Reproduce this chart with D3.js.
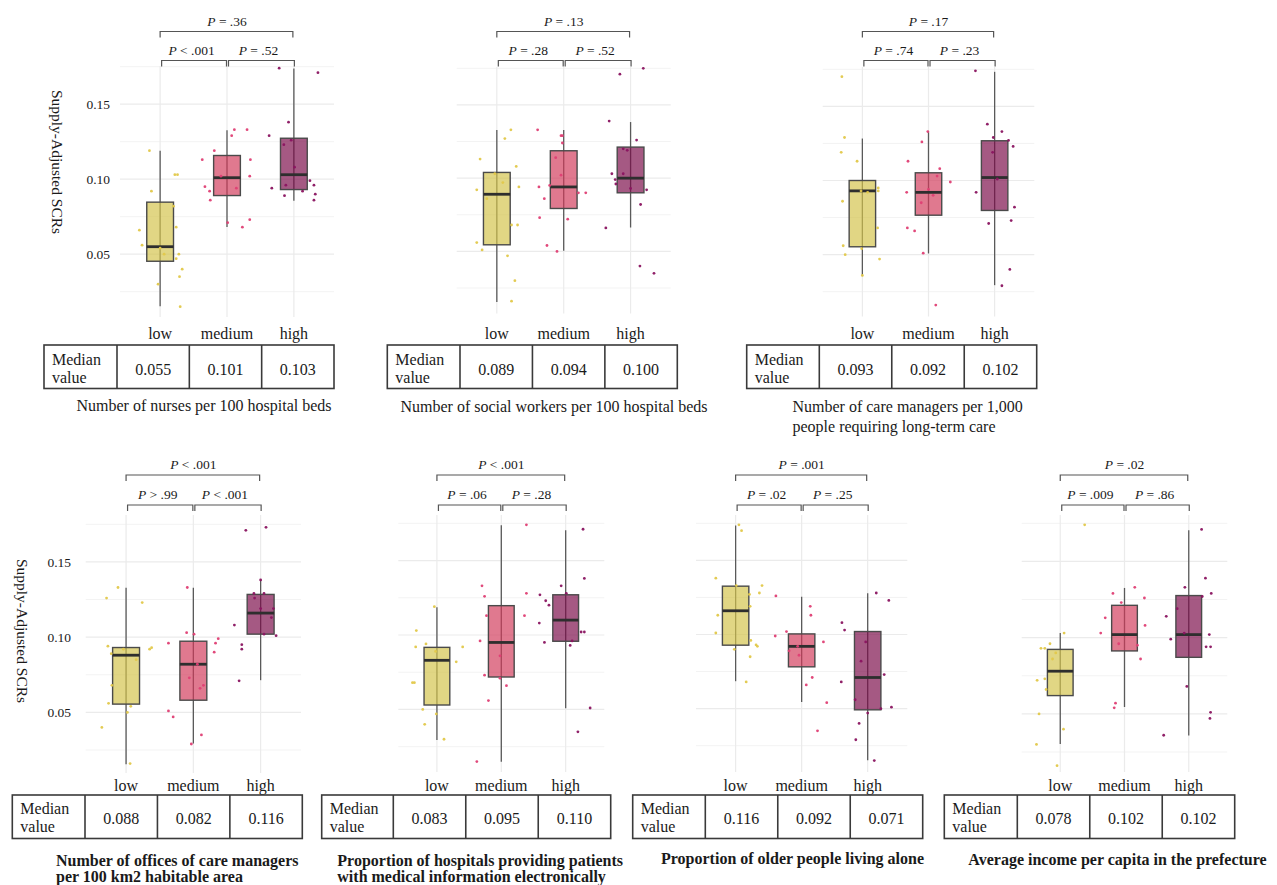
<!DOCTYPE html>
<html>
<head>
<meta charset="utf-8">
<script src="https://cdn.jsdelivr.net/npm/d3@7"></script>
<style>
  body { margin: 0; background: #fff; }
  svg { display: block; }
  text { font-family: "Liberation Serif", "Times New Roman", serif; fill: #1a1a1a; }
</style>
</head>
<body>
<svg id="chart" width="1277" height="885"></svg>
<script>
// ---- data ----
const groups = ["low", "medium", "high"];

const panelTitles = [
  ["Number of nurses per 100 hospital beds"],
  ["Number of social workers per 100 hospital beds"],
  ["Number of care managers per 1,000", "people requiring long-term care"],
  ["Number of offices of care managers", "per 100 km2 habitable area"],
  ["Proportion of hospitals providing patients", "with medical information electronically"],
  ["Proportion of older people living alone"],
  ["Average income per capita in the prefecture"]
];

const yTicks = [0.05, 0.10, 0.15];
const yGridMinor = [0.025, 0.075, 0.125, 0.175];
const yTitle = "Supply-Adjusted SCRs";
const tableHeader = ["Median", "value"];

// median SCR per group (low, medium, high)
const medians = [
  [0.055, 0.101, 0.103],
  [0.089, 0.094, 0.100],
  [0.093, 0.092, 0.102],
  [0.088, 0.082, 0.116],
  [0.083, 0.095, 0.110],
  [0.116, 0.092, 0.071],
  [0.078, 0.102, 0.102]
];
const lowerQuartiles = [
  [0.0453, 0.0891, 0.0931],
  [0.0545, 0.0793, 0.0900],
  [0.0553, 0.0766, 0.0798],
  [0.0555, 0.0581, 0.1020],
  [0.0530, 0.0718, 0.0958],
  [0.0928, 0.0782, 0.0492],
  [0.0620, 0.0913, 0.0871]
];
const upperQuartiles = [
  [0.0847, 0.1158, 0.1273],
  [0.1039, 0.1187, 0.1212],
  [0.1000, 0.1052, 0.1268],
  [0.0931, 0.0973, 0.1284],
  [0.0917, 0.1197, 0.1270],
  [0.1326, 0.1004, 0.1020],
  [0.0923, 0.1212, 0.1276]
];
const whiskerLows = [
  [0.0153, 0.0682, 0.0856],
  [0.0155, 0.0504, 0.0663],
  [0.0355, 0.0508, 0.0294],
  [0.0156, 0.0293, 0.0714],
  [0.0295, 0.0149, 0.0508],
  [0.0685, 0.0544, 0.0152],
  [0.0302, 0.0545, 0.0359]
];
const whiskerHighs = [
  [0.1189, 0.1327, 0.1738],
  [0.1328, 0.1328, 0.1383],
  [0.1283, 0.1326, 0.1733],
  [0.1328, 0.1328, 0.1381],
  [0.1186, 0.1737, 0.1703],
  [0.1735, 0.1254, 0.1279],
  [0.1031, 0.1326, 0.1704]
];

// pairwise tests: [low vs medium, medium vs high, low vs high]
const pLabels = [
  ["P < .001", "P = .52", "P = .36"],
  ["P = .28", "P = .52", "P = .13"],
  ["P = .74", "P = .23", "P = .17"],
  ["P > .99", "P < .001", "P < .001"],
  ["P = .06", "P = .28", "P < .001"],
  ["P = .02", "P = .25", "P = .001"],
  ["P = .009", "P = .86", "P = .02"]
];

// prefecture values per group: [horizontal jitter (category units), SCR]
const pointsNurses = [
  [[-0.16,0.119],[-0.13,0.092],[0.22,0.103],[0.26,0.103],[-0.31,0.066],[-0.27,0.056],[0.0,0.054],[0.06,0.050],[0.20,0.082],[0.24,0.068],[0.28,0.050],[0.24,0.047],[0.33,0.040],[0.29,0.035],[-0.03,0.030],[0.30,0.015]],
  [[-0.37,0.113],[-0.19,0.119],[0.07,0.129],[0.11,0.133],[0.30,0.133],[-0.33,0.095],[-0.26,0.092],[-0.25,0.086],[-0.09,0.102],[0.35,0.113],[0.34,0.102],[0.14,0.094],[0.01,0.071],[0.34,0.073],[0.23,0.068]],
  [[-0.22,0.174],[0.36,0.171],[-0.08,0.138],[-0.37,0.129],[-0.15,0.123],[-0.04,0.126],[0.01,0.108],[-0.12,0.096],[-0.33,0.094],[0.24,0.099],[0.30,0.096],[0.13,0.092],[0.32,0.090],[-0.14,0.089],[0.30,0.086]]
];
const pointsSocialWorkers = [
  [[0.21,0.133],[0.12,0.127],[-0.25,0.113],[0.29,0.108],[-0.03,0.103],[0.09,0.097],[-0.30,0.092],[0.33,0.094],[-0.15,0.086],[0.22,0.068],[0.31,0.068],[-0.30,0.056],[-0.22,0.051],[0.16,0.047],[0.27,0.030],[0.22,0.016]],
  [[-0.39,0.133],[-0.04,0.129],[-0.02,0.129],[-0.02,0.124],[-0.12,0.114],[-0.04,0.102],[-0.37,0.094],[-0.21,0.095],[0.22,0.090],[0.33,0.090],[-0.29,0.086],[-0.36,0.073],[0.06,0.072],[-0.25,0.054],[-0.10,0.050]],
  [[-0.16,0.171],[0.19,0.175],[-0.32,0.139],[0.09,0.126],[-0.11,0.120],[-0.05,0.119],[-0.28,0.103],[-0.11,0.103],[-0.23,0.099],[-0.22,0.096],[0.00,0.093],[0.24,0.092],[0.15,0.082],[-0.37,0.066],[0.14,0.040],[0.35,0.035]]
];
const pointsCareManagers = [
  [[-0.31,0.170],[-0.27,0.129],[-0.32,0.119],[-0.08,0.113],[0.24,0.095],[0.24,0.093],[-0.02,0.093],[0.08,0.092],[-0.30,0.086],[0.23,0.068],[-0.29,0.056],[-0.01,0.054],[-0.26,0.050],[0.26,0.047],[0.00,0.036]],
  [[-0.01,0.133],[-0.10,0.126],[-0.31,0.113],[0.17,0.108],[0.13,0.103],[0.33,0.099],[-0.33,0.092],[0.00,0.094],[0.07,0.090],[-0.11,0.085],[-0.32,0.068],[-0.21,0.066],[-0.08,0.051],[0.11,0.016]],
  [[-0.29,0.174],[-0.11,0.138],[0.11,0.133],[-0.02,0.129],[0.21,0.127],[0.28,0.123],[-0.03,0.119],[0.04,0.101],[-0.28,0.092],[0.30,0.082],[-0.09,0.071],[0.25,0.073],[0.23,0.040],[0.11,0.029]]
];
const pointsCareOffices = [
  [[-0.12,0.133],[-0.29,0.126],[0.24,0.123],[-0.27,0.094],[0.35,0.092],[0.38,0.093],[-0.04,0.092],[-0.22,0.089],[0.15,0.085],[-0.21,0.068],[-0.26,0.056],[0.07,0.054],[0.02,0.050],[-0.36,0.040],[0.06,0.016]],
  [[-0.09,0.133],[-0.10,0.103],[0.01,0.102],[-0.37,0.096],[0.33,0.096],[0.37,0.099],[0.31,0.090],[0.06,0.082],[-0.06,0.073],[0.15,0.068],[0.10,0.066],[-0.37,0.051],[-0.30,0.047],[0.12,0.035],[-0.03,0.029]],
  [[-0.22,0.171],[0.08,0.173],[0.00,0.138],[-0.10,0.129],[0.05,0.129],[-0.09,0.126],[0.00,0.119],[0.19,0.119],[0.16,0.113],[-0.39,0.108],[0.05,0.102],[0.23,0.101],[-0.28,0.095],[-0.28,0.092],[-0.32,0.071]]
];
const pointsElectronicInfo = [
  [[-0.04,0.119],[-0.32,0.103],[-0.33,0.092],[-0.17,0.094],[-0.02,0.089],[0.40,0.092],[0.30,0.082],[-0.38,0.068],[-0.35,0.068],[-0.22,0.050],[-0.01,0.047],[-0.19,0.040],[0.11,0.030]],
  [[0.39,0.174],[-0.30,0.133],[-0.26,0.126],[0.39,0.128],[-0.23,0.113],[0.36,0.113],[-0.33,0.096],[-0.02,0.086],[-0.26,0.073],[-0.02,0.071],[0.08,0.066],[-0.20,0.056],[-0.38,0.015]],
  [[0.27,0.171],[0.29,0.138],[-0.07,0.133],[0.01,0.128],[-0.40,0.127],[-0.31,0.123],[-0.26,0.120],[-0.41,0.108],[0.24,0.102],[0.29,0.102],[-0.33,0.095],[0.07,0.093],[0.10,0.096],[0.38,0.051],[0.19,0.035]]
];
const pointsLivingAlone = [
  [[0.05,0.174],[0.09,0.170],[-0.30,0.138],[0.40,0.133],[0.36,0.128],[0.01,0.133],[0.21,0.127],[0.22,0.119],[-0.27,0.113],[-0.30,0.101],[0.23,0.096],[0.31,0.093],[0.33,0.092],[-0.02,0.090],[0.22,0.085],[0.16,0.068]],
  [[-0.39,0.126],[0.13,0.119],[0.14,0.113],[-0.23,0.102],[-0.40,0.099],[0.33,0.095],[-0.19,0.089],[-0.04,0.086],[0.16,0.071],[0.07,0.066],[0.38,0.054],[0.24,0.035],[-0.06,0.092]],
  [[0.13,0.128],[0.32,0.123],[-0.39,0.108],[-0.35,0.103],[-0.03,0.095],[-0.10,0.082],[0.25,0.073],[-0.40,0.068],[-0.19,0.056],[0.20,0.050],[0.36,0.051],[0.00,0.047],[-0.13,0.040],[-0.18,0.029],[0.10,0.015]]
];
const pointsIncome = [
  [[0.38,0.174],[0.06,0.103],[-0.16,0.096],[-0.30,0.093],[-0.24,0.093],[-0.07,0.090],[-0.12,0.086],[-0.36,0.072],[-0.24,0.073],[-0.22,0.066],[-0.33,0.050],[0.05,0.040],[-0.37,0.030],[-0.05,0.016]],
  [[0.16,0.133],[-0.18,0.129],[0.31,0.126],[-0.05,0.123],[-0.30,0.113],[0.32,0.108],[-0.37,0.103],[-0.09,0.096],[0.20,0.095],[0.25,0.086],[-0.14,0.057],[-0.16,0.054]],
  [[0.20,0.171],[0.26,0.139],[-0.06,0.133],[0.35,0.129],[0.21,0.127],[-0.18,0.119],[-0.35,0.114],[-0.07,0.103],[0.32,0.102],[-0.28,0.099],[0.27,0.094],[0.34,0.094],[-0.03,0.068],[0.34,0.051],[0.33,0.047],[-0.39,0.036]]
];
const panelPoints = [pointsNurses, pointsSocialWorkers, pointsCareManagers, pointsCareOffices,
                     pointsElectronicInfo, pointsLivingAlone, pointsIncome];

// ---- styling ----
const boxFill = ["#d3c34a", "#d23a5a", "#7a0a48"];
const pointColor = ["#e2c84a", "#df3f74", "#8a1460"];

// ---- layout of the seven panels ----
const topRow = { brU: 31.5, brL: 60.5, catY: 338.5, tblT: 345, tblB: 388.5, headY: [365, 383], valY: 374.5 };
const botRow = { brU: 475, brL: 505, catY: 791, tblT: 795, tblB: 838.5, headY: [814, 832], valY: 824 };

const layout = [
  { row: topRow, x0: 120, x1: 334, y175: 66.7, y025: 291.7, gTop: 66, gBot: 317,
    tbl: [44, 117, 334], title: { x: 204, y: [411], anchor: "middle", bold: false },
    yAxis: { tickX: 110, titleX: 52, titleY: 162 } },
  { row: topRow, x0: 456.7, x1: 670.7, y175: 68.3, y025: 288, gTop: 67, gBot: 313.5,
    tbl: [387.3, 460, 677.3], title: { x: 554, y: [411.5], anchor: "middle", bold: false } },
  { row: topRow, x0: 822.7, x1: 1034.3, y175: 69.3, y025: 291.7, gTop: 67, gBot: 316.5,
    tbl: [746.7, 819.3, 1036.7], title: { x: 792.5, y: [412, 431.5], anchor: "start", bold: false } },
  { row: botRow, x0: 85.7, x1: 301, y175: 524.3, y025: 750, gTop: 515, gBot: 773,
    tbl: [12.3, 85, 302.3], title: { x: 56, y: [865.5, 882], anchor: "start", bold: true },
    yAxis: { tickX: 71, titleX: 16.5, titleY: 631 } },
  { row: botRow, x0: 398.3, x1: 604.3, y175: 523.3, y025: 746.7, gTop: 515, gBot: 772,
    tbl: [321.7, 393.3, 610.7], title: { x: 337.3, y: [865.5, 882], anchor: "start", bold: true } },
  { row: botRow, x0: 696, x1: 907.3, y175: 523.3, y025: 745.7, gTop: 515, gBot: 772,
    tbl: [632.7, 705.3, 922.7], title: { x: 792.5, y: [864], anchor: "middle", bold: true } },
  { row: botRow, x0: 1021.7, x1: 1227.3, y175: 523.3, y025: 752, gTop: 515, gBot: 772,
    tbl: [944.3, 1017.3, 1234.7], title: { x: 1117.5, y: [865], anchor: "middle", bold: true } }
];

const svg = d3.select("#chart");
const fmt3 = d3.format(".3f");

function pText(sel, label) {
  sel.append("tspan").attr("font-style", "italic").text(label.slice(0, 1));
  sel.append("tspan").text(label.slice(1));
}

function drawPanel(i) {
  const L = layout[i], R = L.row;
  const g = svg.append("g");
  const x = d3.scalePoint().domain(groups).range([L.x0, L.x1]).padding(0.6);
  const step = x.step();
  const y = d3.scaleLinear().domain([0.025, 0.175]).range([L.y025, L.y175]);

  // grid
  g.selectAll(".gmin").data(yGridMinor).join("line")
    .attr("x1", L.x0).attr("x2", L.x1).attr("y1", d => y(d)).attr("y2", d => y(d))
    .attr("stroke", "#f3f3f3").attr("stroke-width", 1);
  g.selectAll(".gmaj").data(yTicks).join("line")
    .attr("x1", L.x0).attr("x2", L.x1).attr("y1", d => y(d)).attr("y2", d => y(d))
    .attr("stroke", "#ebebeb").attr("stroke-width", 1.2);
  g.selectAll(".gx").data(groups).join("line")
    .attr("x1", d => x(d)).attr("x2", d => x(d)).attr("y1", L.gTop).attr("y2", L.gBot)
    .attr("stroke", "#ebebeb").attr("stroke-width", 1.2);

  // whiskers
  g.selectAll(".wh").data(groups).join("line")
    .attr("x1", d => x(d)).attr("x2", d => x(d))
    .attr("y1", (d, j) => y(whiskerLows[i][j])).attr("y2", (d, j) => y(whiskerHighs[i][j]))
    .attr("stroke", "#5a5a5a").attr("stroke-width", 1.3);

  // boxes
  const bw = step * 0.4;
  g.selectAll(".box").data(groups).join("rect")
    .attr("x", d => x(d) - bw / 2).attr("width", bw)
    .attr("y", (d, j) => y(upperQuartiles[i][j]))
    .attr("height", (d, j) => y(lowerQuartiles[i][j]) - y(upperQuartiles[i][j]))
    .attr("fill", (d, j) => boxFill[j]).attr("fill-opacity", 0.68)
    .attr("stroke", "#4a4a4a").attr("stroke-width", 1.4);
  g.selectAll(".med").data(groups).join("line")
    .attr("x1", d => x(d) - bw / 2).attr("x2", d => x(d) + bw / 2)
    .attr("y1", (d, j) => y(medians[i][j])).attr("y2", (d, j) => y(medians[i][j]))
    .attr("stroke", "#2e2e2e").attr("stroke-width", 2.8);

  // jittered prefecture points
  groups.forEach((grp, j) => {
    g.selectAll(".pt" + j).data(panelPoints[i][j]).join("circle")
      .attr("cx", d => x(grp) + d[0] * step).attr("cy", d => y(d[1]))
      .attr("r", 1.4).attr("fill", pointColor[j]).attr("fill-opacity", 0.95);
  });

  // significance brackets
  const tick = 6;
  const brackets = [
    { a: x("low") + 1.5, b: x("medium") - 0.5, yb: R.brL, lx: (x("low") + x("medium")) / 2 - 2, lab: pLabels[i][0] },
    { a: x("medium") + 1.5, b: x("high") + 0.5, yb: R.brL, lx: (x("medium") + x("high")) / 2 - 2, lab: pLabels[i][1] },
    { a: x("low"), b: x("high") - 1, yb: R.brU, lx: x("medium"), lab: pLabels[i][2] }
  ];
  brackets.forEach(br => {
    g.append("path")
      .attr("d", `M${br.a},${br.yb + tick}V${br.yb}H${br.b}V${br.yb + tick}`)
      .attr("fill", "none").attr("stroke", "#555").attr("stroke-width", 1.2);
    const t = g.append("text").attr("x", br.lx).attr("y", br.yb - 6)
      .attr("text-anchor", "middle").attr("font-size", 13.5);
    pText(t, br.lab);
  });

  // category labels
  g.selectAll(".cat").data(groups).join("text")
    .attr("x", d => x(d)).attr("y", R.catY).attr("text-anchor", "middle")
    .attr("font-size", 16).text(d => d);

  // y axis (left-most panels only)
  if (L.yAxis) {
    const ax = d3.axisLeft(y).tickValues(yTicks).tickFormat(d3.format(".2f")).tickSize(0).tickPadding(0);
    const ag = g.append("g").attr("transform", `translate(${L.yAxis.tickX},0)`).call(ax);
    ag.select(".domain").remove();
    ag.selectAll("text").attr("font-size", 13.5)
      .attr("font-family", "Liberation Serif, serif").attr("fill", "#333");
    g.append("text")
      .attr("transform", `translate(${L.yAxis.titleX},${L.yAxis.titleY}) rotate(90)`)
      .attr("text-anchor", "middle").attr("font-size", 15.5).text(yTitle);
  }

  // median table
  const [tl, tc, tr] = L.tbl;
  const colW = (tr - tc) / 3;
  const tg = g.append("g");
  tg.append("rect").attr("x", tl).attr("y", R.tblT).attr("width", tr - tl).attr("height", R.tblB - R.tblT)
    .attr("fill", "none").attr("stroke", "#3a3a3a").attr("stroke-width", 1.6);
  [tc, tc + colW, tc + 2 * colW].forEach(cx => {
    tg.append("line").attr("x1", cx).attr("x2", cx).attr("y1", R.tblT).attr("y2", R.tblB)
      .attr("stroke", "#3a3a3a").attr("stroke-width", 1.6);
  });
  tableHeader.forEach((h, k) => {
    tg.append("text").attr("x", tl + 8).attr("y", R.headY[k]).attr("font-size", 16).text(h);
  });
  tg.selectAll(".val").data(medians[i]).join("text")
    .attr("x", (d, j) => tc + colW * (j + 0.5)).attr("y", R.valY)
    .attr("text-anchor", "middle").attr("font-size", 16).text(d => fmt3(d));

  // variable title
  panelTitles[i].forEach((line, k) => {
    g.append("text").attr("x", L.title.x).attr("y", L.title.y[k])
      .attr("text-anchor", L.title.anchor).attr("font-size", 16)
      .attr("font-weight", L.title.bold ? "bold" : "normal").text(line);
  });
}

layout.forEach((d, i) => drawPanel(i));
</script>
</body>
</html>
